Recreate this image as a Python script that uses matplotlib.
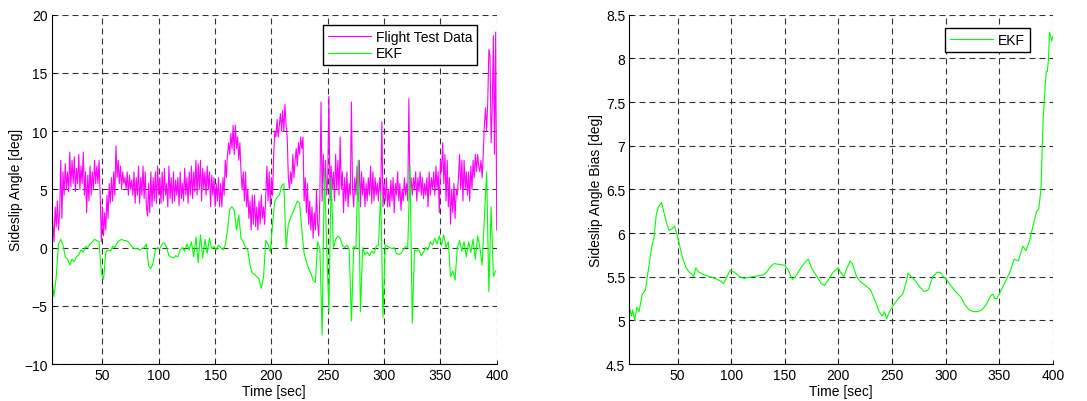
import matplotlib
matplotlib.use("Agg")
import matplotlib.pyplot as plt
from matplotlib.ticker import FormatStrFormatter
import numpy as np

plt.rcParams['font.family'] = ['Liberation Sans', 'DejaVu Sans']
plt.rcParams['font.size'] = 10

# sample times: flight data every 1 s, EKF output every 2 s
t_flight = np.arange(5, 401)
t_ekf = np.arange(5, 401, 2)

# flight test sideslip angle [deg]
beta_flight = [
    4.2, 2.0, 0.5, 3.5, 1.8, 4.0, 1.5, 3.0, 7.5, 2.5, 6.5, 4.5, 7.2, 5.0, 6.5, 4.8, 8.2, 5.2, 7.5, 5.5,
    7.8, 4.8, 6.8, 5.5, 8.0, 5.0, 7.0, 5.5, 8.2, 4.5, 6.5, 3.0, 6.2, 4.0, 7.0, 4.5, 6.5, 5.0, 7.5, 5.5,
    7.0, 5.5, 7.5, 4.5, 0.5, 3.5, 1.0, 3.0, 1.5, 4.5, 2.5, 5.5, 3.8, 6.0, 4.0, 6.5, 4.5, 8.7, 6.0, 7.5,
    5.5, 7.0, 5.0, 6.5, 5.5, 6.0, 5.0, 6.5, 4.5, 6.2, 5.0, 5.8, 4.5, 6.5, 3.8, 6.0, 4.5, 7.0, 3.8, 6.0,
    4.5, 7.0, 4.2, 6.5, 3.5, 2.7, 5.5, 3.0, 6.5, 3.5, 6.0, 4.0, 6.5, 3.8, 7.0, 4.5, 6.0, 3.8, 6.5, 4.0,
    6.8, 4.5, 5.5, 3.5, 7.0, 4.2, 6.0, 3.8, 6.5, 4.0, 5.8, 4.5, 6.0, 3.6, 6.5, 4.2, 5.5, 4.0, 6.8, 4.5,
    6.0, 3.8, 6.5, 4.5, 7.0, 4.2, 6.5, 4.8, 7.5, 4.5, 7.2, 5.0, 7.5, 4.0, 6.8, 5.0, 6.5, 4.5, 7.0, 5.0,
    6.5, 3.5, 6.2, 4.5, 6.0, 3.5, 5.5, 4.0, 6.0, 3.5, 5.5, 3.5, 6.0, 4.5, 7.5, 6.0, 8.0, 9.0, 8.0, 9.8,
    8.5, 10.5, 8.0, 10.5, 8.5, 9.5, 7.5, 9.0, 6.5, 5.0, 6.5, 4.0, 6.5, 3.5, 5.0, 2.5, 4.0, 1.5, 4.5, 2.0,
    4.5, 1.8, 3.5, 1.5, 4.0, 2.0, 4.5, 2.5, 3.5, 2.0, 4.5, 7.0, 4.0, 6.5, 3.5, 6.0, 4.5, 8.0, 10.0, 9.5,
    11.0, 9.5, 10.5, 11.5, 10.0, 11.8, 10.0, 12.3, 10.5, 9.5, 6.0, 5.0, 6.5, 5.5, 8.0, 6.0, 7.5, 8.5, 7.0, 9.0,
    8.0, 9.5, 8.5, 9.5, 4.0, 6.0, 3.0, 5.5, 2.0, 4.0, 1.5, 3.5, 0.8, 3.0, 1.5, 5.0, 2.0, 1.0, 4.5, 12.5,
    4.0, 8.0, 5.0, 7.5, 4.5, 6.0, 13.0, 4.0, 7.0, 5.0, 6.5, 4.0, 8.0, 5.0, 7.5, 4.5, 9.5, 5.0, 6.5, 3.0,
    6.0, 4.0, 6.5, 3.5, 5.5, 4.5, 12.5, 5.0, 3.5, 6.0, 4.5, 7.0, 4.0, 7.5, 3.5, 6.5, 4.5, 6.0, 3.5, 5.5,
    4.0, 6.0, 4.5, 7.0, 3.8, 6.5, 4.0, 6.0, 4.5, 5.5, 4.0, 6.0, 4.5, 10.8, 3.5, 5.5, 4.0, 6.0, 3.5, 5.0,
    3.5, 5.8, 4.0, 6.0, 3.0, 5.5, 4.5, 6.5, 4.0, 5.5, 3.2, 5.0, 4.0, 6.0, 4.5, 5.5, 4.0, 12.8, 4.5, 6.0,
    4.5, 6.0, 5.0, 6.5, 4.0, 6.0, 4.8, 6.5, 4.5, 6.0, 4.2, 5.5, 4.5, 6.0, 3.5, 6.5, 4.5, 6.0, 5.0, 6.5,
    4.5, 7.0, 5.0, 6.5, 3.0, 7.5, 6.5, 9.0, 5.5, 8.0, 4.0, 7.5, 3.5, 6.0, 2.0, 5.0, 3.0, 5.5, 2.5, 5.0,
    4.5, 6.0, 8.0, 5.0, 7.5, 4.0, 7.5, 5.0, 6.5, 4.5, 6.5, 4.0, 7.0, 5.0, 7.5, 6.0, 8.0, 6.5, 8.0, 7.0,
    6.5, 7.5, 6.0, 8.0, 10.5, 12.0, 10.0, 12.5, 17.0, 16.5, 9.0, 12.0, 18.2, 8.0, 18.5, 1.5,
]

# EKF estimate of sideslip angle [deg]
beta_ekf = [
    -2.5, -4.2, -2.5, 0.3, 0.7, 0.2, -0.8, -1.0, -1.5, -1.0,
    -1.2, -0.8, -0.6, -0.2, -0.4, 0.1, 0.0, 0.3, 0.5, 0.7,
    0.6, 0.5, -2.2, -2.7, -0.4, -0.2, -0.3, 0.1, 0.0, 0.4,
    0.6, 0.7, 0.6, 0.6, 0.5, 0.2, 0.0, -0.1, -0.1, -0.2,
    -0.1, 0.0, 0.3, -1.6, -1.8, -1.3, -0.2, 0.0, -0.1, 0.3,
    0.4, 0.0, -0.7, -0.8, -0.9, -0.7, -0.8, -0.2, 0.0, -0.3,
    0.3, -0.2, 0.5, -0.8, 0.9, -1.3, 1.1, -0.9, 0.7, -0.5,
    0.8, -0.1, 0.1, -0.2, 0.2, 0.0, -0.2, 0.2, 1.5, 3.3,
    3.5, 3.2, 1.5, 2.8, 0.8, 0.5, 0.0, -0.2, -1.5, -2.2,
    -2.3, -2.5, -2.7, -3.5, -2.5, 0.6, 0.3, -0.4, 2.0, 4.0,
    4.3, 4.5, 5.3, 5.5, 0.0, 2.0, 2.6, 3.0, 3.5, 4.0,
    3.8, 1.5, -0.5, -1.2, -1.8, -2.2, -2.8, -3.0, 0.5, -0.1,
    -7.5, 6.8, 0.2, -5.5, 6.0, 0.0, 0.7, 1.0, 0.8, 0.2,
    0.0, 0.2, -0.1, -6.3, 0.1, -0.1, 7.5, -5.5, 0.0, -0.6,
    -0.4, -0.7, -0.3, -0.5, 0.1, 0.2, 4.8, -6.0, 0.2, 0.1,
    0.0, -0.1, 0.0, -0.5, -0.6, -0.5, -0.2, 0.1, 0.0, 7.0,
    -6.5, -0.2, -0.3, -0.2, -0.7, -0.4, 0.0, -0.2, 0.5, 0.2,
    0.8, 0.3, 1.0, 0.2, 1.1, 0.0, 0.5, -2.5, -2.0, -2.8,
    0.0, 0.6, -0.3, 0.5, -0.8, 0.5, -0.4, 0.7, -1.0, 1.0,
    0.0, -1.5, 2.5, 6.5, -3.8, 3.5, -2.5, -2.0,
]

# EKF sideslip angle bias [deg]
t_bias = [
    5, 7, 8, 10, 12, 14, 17, 20, 23, 26, 28, 30, 32, 35, 37, 40, 42, 45, 47, 49,
    52, 55, 58, 61, 63, 65, 67, 70, 75, 80, 85, 90, 93, 96, 99, 103, 108, 112, 120, 130,
    133, 137, 140, 145, 150, 153, 157, 160, 165, 170, 172, 175, 180, 184, 187, 190, 195, 200, 202, 205,
    208, 211, 213, 217, 220, 225, 230, 235, 238, 241, 243, 245, 247, 250, 253, 256, 260, 263, 265, 268,
    272, 276, 280, 284, 288, 292, 295, 298, 302, 306, 310, 314, 318, 322, 326, 330, 334, 338, 342, 344,
    346, 348, 352, 356, 360, 364, 368, 372, 375, 378, 380, 383, 385, 387, 389, 390, 391, 393, 394, 395,
    396, 397, 398, 399, 400,
]
bias_ekf = [
    5.15, 5.05, 5.12, 5.0, 5.15, 5.1, 5.3, 5.35, 5.6, 5.85, 5.95, 6.2, 6.3, 6.35, 6.25, 6.1, 6.03, 6.05, 6.08, 6.0,
    5.85, 5.7, 5.6, 5.55, 5.53, 5.5, 5.6, 5.55, 5.52, 5.5, 5.48, 5.45, 5.42, 5.5, 5.57, 5.55, 5.5, 5.48, 5.5, 5.52,
    5.55, 5.62, 5.65, 5.64, 5.63, 5.58, 5.47, 5.5, 5.6, 5.68, 5.7, 5.6, 5.5, 5.42, 5.4, 5.45, 5.55, 5.6, 5.55, 5.5,
    5.6, 5.68, 5.65, 5.5, 5.45, 5.4, 5.35, 5.2, 5.1, 5.05, 5.1, 5.02, 5.08, 5.15, 5.2, 5.25, 5.3, 5.42, 5.54, 5.5,
    5.45, 5.38, 5.33, 5.35, 5.5, 5.55, 5.55, 5.5, 5.45, 5.38, 5.32, 5.27, 5.18, 5.12, 5.1, 5.1, 5.12, 5.18, 5.28, 5.3,
    5.25, 5.25, 5.35, 5.45, 5.55, 5.7, 5.68, 5.85, 5.8, 5.9, 6.0, 6.15, 6.25, 6.28, 6.5, 6.9, 7.3, 7.7, 7.85, 7.85,
    8.0, 8.3, 8.25, 8.2, 8.25,
]

magenta = '#ff00ff'
green = '#00ff00'
grid_style = dict(color='0.2', linestyle=(0, (5.4, 3.6)), linewidth=0.8)


def matlab_axes(ax):
    ax.spines['top'].set_visible(False)
    ax.spines['right'].set_visible(False)
    ax.spines['left'].set_linewidth(0.8)
    ax.spines['bottom'].set_linewidth(0.8)
    ax.tick_params(direction='in', length=3, width=0.6, labelsize=10, pad=3)
    ax.grid(True, **grid_style)
    ax.set_axisbelow(True)


def boxed_legend(ax, anchor):
    leg = ax.legend(loc='upper right', bbox_to_anchor=anchor, borderaxespad=0,
                    fancybox=False, edgecolor='black', framealpha=1,
                    handlelength=3.1, handletextpad=0.35, fontsize=10,
                    borderpad=0.35, labelspacing=0.2)
    leg.get_frame().set_linewidth(1.0)
    return leg


fig = plt.figure(figsize=(10.87, 4.02), dpi=100)

ax1 = fig.add_axes([0.0476, 0.092, 0.4094, 0.869])
ax1.plot(t_flight, beta_flight, color=magenta, lw=0.8, label='Flight Test Data')
ax1.plot(t_ekf, beta_ekf, color=green, lw=0.8, label='EKF')
ax1.set_xlim(5, 400)
ax1.set_ylim(-10, 20)
ax1.set_xticks(np.arange(50, 401, 50))
ax1.set_yticks(np.arange(-10, 21, 5))
ax1.set_xlabel('Time [sec]', labelpad=1)
ax1.set_ylabel('Sideslip Angle [deg]', labelpad=1)
matlab_axes(ax1)
boxed_legend(ax1, (0.956, 0.971))

ax2 = fig.add_axes([0.579, 0.092, 0.3895, 0.869])
ax2.plot(t_bias, bias_ekf, color=green, lw=0.8, label='EKF')
ax2.set_xlim(5, 400)
ax2.set_ylim(4.5, 8.5)
ax2.set_xticks(np.arange(50, 401, 50))
ax2.set_yticks(np.arange(4.5, 8.51, 0.5))
ax2.yaxis.set_major_formatter(FormatStrFormatter('%g'))
ax2.set_xlabel('Time [sec]', labelpad=1)
ax2.set_ylabel('Sideslip Angle Bias [deg]', labelpad=2)
matlab_axes(ax2)
boxed_legend(ax2, (0.946, 0.962))

fig.savefig('out.png', dpi=100)
